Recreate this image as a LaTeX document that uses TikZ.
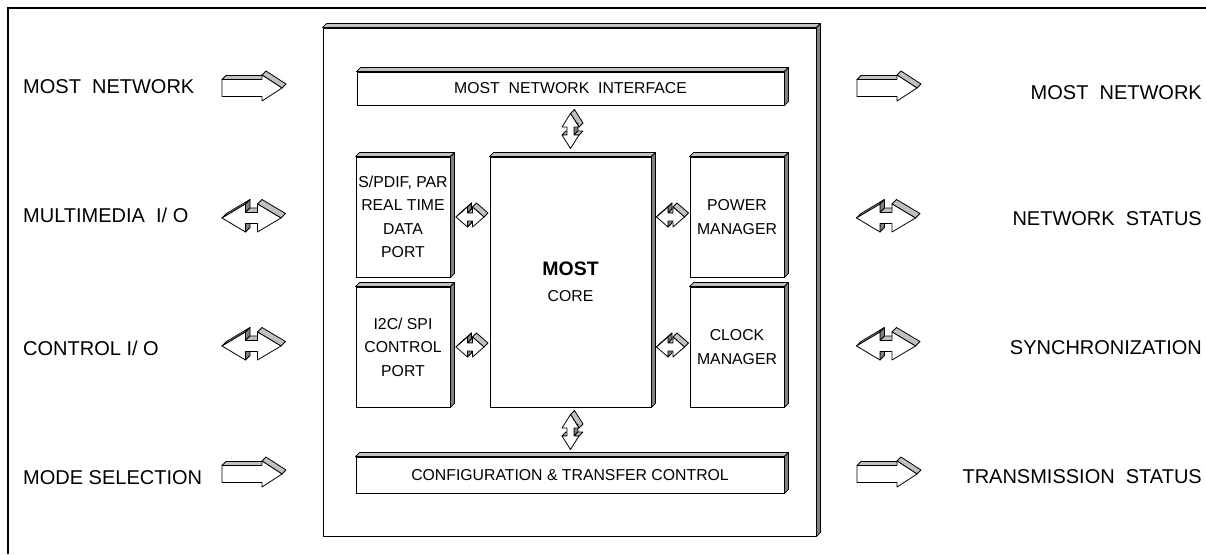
\documentclass[tikz,border=0pt]{standalone}
\usepackage{fontspec}
\setmainfont{Liberation Sans}
\usetikzlibrary{calc}
\definecolor{facelt}{RGB}{192,192,192}
\definecolor{facedk}{RGB}{128,128,128}
% box bevel: top face and right face, depth #2
\newcommand\Bevel[2]{%
  \filldraw[face,fill=facelt] (#1.north west) -- ([shift={(#2,-#2)}]#1.north west) -- ([shift={(#2,-#2)}]#1.north east) -- (#1.north east) -- cycle;
  \filldraw[face,fill=facedk] (#1.north east) -- ([shift={(#2,-#2)}]#1.north east) -- ([shift={(#2,-#2)}]#1.south east) -- (#1.south east) -- cycle;}
% single right block arrow
\newcommand\RArr[1]{%
  \begin{scope}[shift={(#1)}]
    \filldraw[face,fill=facelt] (-30,-8.5) -- (10,-8.5) -- (14,-12.5) -- (-26,-12.5) -- cycle;
    \filldraw[face,fill=facelt] (10,-13) -- (30,0) -- (34,-4) -- (14,-17) -- cycle;
    \filldraw[front] (-30,-8.5) -- (10,-8.5) -- (10,-13) -- (30,0) -- (10,13) -- (10,8.5) -- (-30,8.5) -- cycle;
  \end{scope}}
% double horizontal block arrow: pos, tip, head base, head half height, shaft half height, depth
\newcommand\DblH[6]{%
  \begin{scope}[shift={(#1)}]
    \filldraw[face,fill=facelt] (-#2,0) -- (-#3,-#4) -- ({-#3+#6},{-#4-#6}) -- ({-#2+#6},{-#6}) -- cycle;
    \filldraw[face,fill=facedk] (-#3,-#4) -- (-#3,-#5) -- ({-#3+#6},{-#5-#6}) -- ({-#3+#6},{-#4-#6}) -- cycle;
    \filldraw[face,fill=facelt] (-#3,-#5) -- (#3,-#5) -- ({#3+#6},{-#5-#6}) -- ({-#3+#6},{-#5-#6}) -- cycle;
    \filldraw[face,fill=facelt] (#3,-#4) -- (#2,0) -- ({#2+#6},{-#6}) -- ({#3+#6},{-#4-#6}) -- cycle;
    \filldraw[face,fill=facedk] (-#3,#5) -- (-#3,#4) -- ({-#3+#6},{#4-#6}) -- ({-#3+#6},{#5-#6}) -- cycle;
    \filldraw[front] (-#2,0) -- (-#3,-#4) -- (-#3,-#5) -- (#3,-#5) -- (#3,-#4) -- (#2,0) -- (#3,#4) -- (#3,#5) -- (-#3,#5) -- (-#3,#4) -- cycle;
  \end{scope}}
% double vertical block arrow
\newcommand\DblV[6]{%
  \begin{scope}[shift={(#1)}]
    \filldraw[face,fill=facelt] (0,-#2) -- (#4,-#3) -- ({#4+#6},{-#3-#6}) -- (#6,{-#2-#6}) -- cycle;
    \filldraw[face,fill=facedk] (#5,-#3) -- (#5,#3) -- ({#5+#6},{#3-#6}) -- ({#5+#6},{-#3-#6}) -- cycle;
    \filldraw[face,fill=facelt] (#5,#3) -- (#4,#3) -- ({#4+#6},{#3-#6}) -- ({#5+#6},{#3-#6}) -- cycle;
    \filldraw[face,fill=facelt] (-#4,#3) -- (-#5,#3) -- ({-#5+#6},{#3-#6}) -- ({-#4+#6},{#3-#6}) -- cycle;
    \filldraw[front] (0,-#2) -- (#4,-#3) -- (#5,-#3) -- (#5,#3) -- (#4,#3) -- (0,#2) -- (-#4,#3) -- (-#5,#3) -- (-#5,-#3) -- (-#4,-#3) -- cycle;
  \end{scope}}
\begin{document}
\begin{tikzpicture}[x=1pt,y=-1pt,
  face/.style={draw=black,line width=0.8pt,line join=round},
  front/.style={draw=black,fill=white,line width=0.8pt,line join=round},
  blk/.style={draw=black,fill=white,line width=0.9pt,inner sep=0pt,align=center,
              font=\fontsize{15.8}{23.5}\selectfont},
  lab/.style={inner sep=0pt,font=\fontsize{20}{23}\selectfont},
]
\useasboundingbox (0,0) rectangle (1206,554);
\fill[white] (0,0) rectangle (1206,554);
% outer frame
\draw[line width=2pt] (7.5,554) -- (7.5,7.5) -- (1206,7.5);

% main block
\node[blk,minimum width=493,minimum height=508] (main) at (569.5,282) {};
\Bevel{main}{4}

% inner blocks
\node[blk,minimum width=427,minimum height=33] (mni) at (570.5,88.5) {MOST~~NETWORK~~INTERFACE};
\Bevel{mni}{4}
\node[blk,minimum width=94,minimum height=120] (spdif) at (403,217) {S/PDIF, PAR\\REAL TIME\\DATA\\PORT};
\Bevel{spdif}{4}
\node[blk,minimum width=94,minimum height=120] (i2c) at (403,347) {I2C/ SPI\\CONTROL\\PORT};
\Bevel{i2c}{4}
\node[blk,minimum width=161,minimum height=250] (core) at (570.5,282) {{\fontsize{19.5}{23.5}\selectfont\bfseries MOST}\\[2pt]CORE};
\Bevel{core}{4}
\node[blk,minimum width=94,minimum height=120] (power) at (737,217) {POWER\\MANAGER};
\Bevel{power}{4}
\node[blk,minimum width=94,minimum height=120] (clock) at (737,347) {CLOCK\\MANAGER};
\Bevel{clock}{4}
\node[blk,minimum width=428,minimum height=36] (config) at (570,475) {CONFIGURATION \& TRANSFER CONTROL};
\Bevel{config}{4}

% inner arrows between blocks
\DblV{$(mni.south)!0.5!(mni.south |- core.north)$}{17.5}{4}{8.5}{3.5}{4}
\DblV{$(core.south)!0.5!(core.south |- config.north)$}{17.5}{4}{8.5}{3.5}{4}
\DblH{$(spdif.east)!0.5!(spdif.east -| core.west)$}{14}{2.5}{10}{4}{4}
\DblH{$(i2c.east)!0.5!(i2c.east -| core.west)$}{14}{2.5}{10}{4}{4}
\DblH{$(power.west)!0.5!(power.west -| core.east)$}{14}{2.5}{10}{4}{4}
\DblH{$(clock.west)!0.5!(clock.west -| core.east)$}{14}{2.5}{10}{4}{4}

% left labels
\node[lab,anchor=base west] (lmn) at (23,93) {MOST~~NETWORK};
\node[lab,anchor=base west] (lmm) at (23,222) {MULTIMEDIA~~I/ O};
\node[lab,anchor=base west] (lct) at (23,355) {CONTROL I/ O};
\node[lab,anchor=base west] (lms) at (23,484) {MODE SELECTION};
% right labels
\node[lab,anchor=base east] (rmn) at (1202,99) {MOST~~NETWORK};
\node[lab,anchor=base east] (rns) at (1202,225) {NETWORK~~STATUS};
\node[lab,anchor=base east] (rsy) at (1202,354) {SYNCHRONIZATION};
\node[lab,anchor=base east] (rts) at (1202,483) {TRANSMISSION~~STATUS};

% outer arrows
\RArr{252,88}
\RArr{252,474}
\DblH{251.5,218}{29.5}{6}{14}{5.5}{4.5}
\DblH{251.5,346}{29.5}{6}{14}{5.5}{4.5}
\RArr{887,88}
\RArr{887,474}
\DblH{886,218}{29.5}{6}{14}{5.5}{4.5}
\DblH{886,346}{29.5}{6}{14}{5.5}{4.5}
\end{tikzpicture}
\end{document}
